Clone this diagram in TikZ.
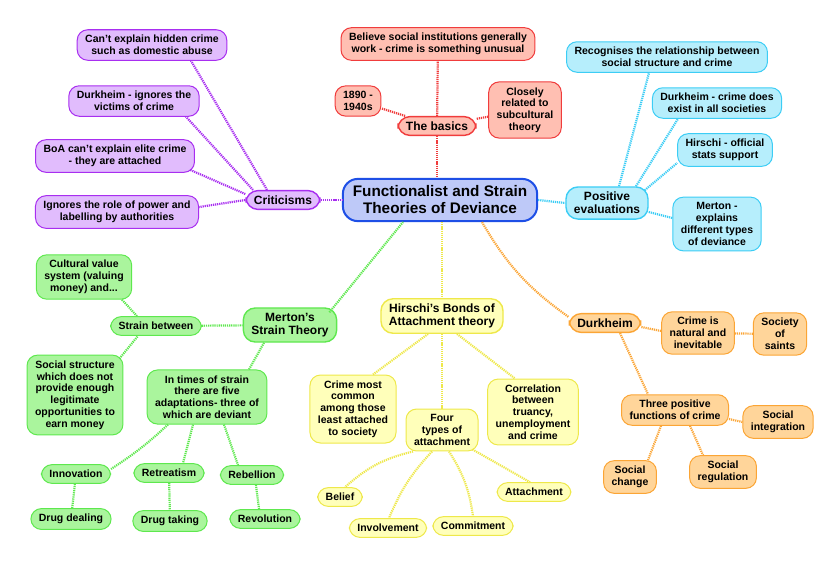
\documentclass[tikz,border=0pt]{standalone}
\usepackage{fontspec}
\setmainfont{Liberation Sans}
\definecolor{blueline}{HTML}{1E4FE6}
\definecolor{bluefill}{HTML}{BEC9F8}
\definecolor{purpline}{HTML}{A82EF0}
\definecolor{purpfill}{HTML}{E1BCFD}
\definecolor{redline}{HTML}{F03C3C}
\definecolor{redfill}{HTML}{FFBFB2}
\definecolor{cyanline}{HTML}{3CCDF5}
\definecolor{cyanfill}{HTML}{B6EEFC}
\definecolor{greenline}{HTML}{5EE84E}
\definecolor{greenfill}{HTML}{AAF59D}
\definecolor{yellowline}{HTML}{EEE84A}
\definecolor{yellowfill}{HTML}{FFFFBA}
\definecolor{orangeline}{HTML}{FBA535}
\definecolor{orangefill}{HTML}{FFD59A}
\tikzset{
    leaf/.style={rounded corners=10.5pt, line width=1pt, inner xsep=8pt, inner ysep=5.5pt,
        align=center, font=\bfseries\fontsize{10.5}{11.8}\selectfont},
    branch/.style={leaf, line width=1.4pt, rounded corners=12pt, inner ysep=5pt, font=\bfseries\fontsize{12}{13.3}\selectfont},
    hub/.style={rounded corners=15pt, line width=2pt, inner xsep=10pt, inner ysep=7pt, align=center,
        draw=blueline, fill=bluefill, font=\bfseries\fontsize{15.3}{17}\selectfont},
    link/.style={line width=2.2pt, dash pattern=on 1.2pt off 0.9pt},
    redbox/.style={draw=redline, fill=redfill},
    critbox/.style={draw=purpline, fill=purpfill},
    cyanbox/.style={draw=cyanline, fill=cyanfill},
    greenbox/.style={draw=greenline, fill=greenfill},
    yellowbox/.style={draw=yellowline, fill=yellowfill},
    orangebox/.style={draw=orangeline, fill=orangefill},
    redlink/.style={link, draw=redline},
    critlink/.style={link, draw=purpline},
    cyanlink/.style={link, draw=cyanline},
    greenlink/.style={link, draw=greenline},
    yellowlink/.style={link, draw=yellowline},
    orangelink/.style={link, draw=orangeline}
}
\begin{document}
\begin{tikzpicture}[x=1pt, y=-1pt]
            \useasboundingbox (0,0) rectangle (840,566);

            \node[hub] (hub) at (440,200) {Functionalist and Strain\\Theories of Deviance};

            \node[branch, redbox] (basics) at (437,126) {The basics};
            \node[leaf, redbox] (believe) at (438,44) {Believe social institutions generally\\work - crime is something unusual};
            \node[leaf, redbox] (dates) at (358,101) {1890 -\\1940s};
            \node[leaf, redbox] (related) at (525,110) {Closely\\related to\\subcultural\\theory};

            \node[branch, critbox] (crit) at (283,200) {Criticisms};
            \node[leaf, critbox] (hidden) at (152,45) {Can’t explain hidden crime\\such as domestic abuse};
            \node[leaf, critbox] (victims) at (134,101) {Durkheim - ignores the\\victims of crime};
            \node[leaf, critbox] (elite) at (115,156) {BoA can’t explain elite crime\\- they are attached};
            \node[leaf, critbox] (power) at (117,212) {Ignores the role of power and\\labelling by authorities};

            \node[branch, cyanbox] (pos) at (607,203) {Positive\\evaluations};
            \node[leaf, cyanbox] (relation) at (667,57) {Recognises the relationship between\\social structure and crime};
            \node[leaf, cyanbox] (exist) at (717,103) {Durkheim - crime does\\exist in all societies};
            \node[leaf, cyanbox] (stats) at (725,150) {Hirschi - official\\stats support};
            \node[leaf, cyanbox] (types) at (717,224) {Merton -\\explains\\different types\\of deviance};

            \node[branch, greenbox] (merton) at (290,325) {Merton’s\\Strain Theory};
            \node[leaf, greenbox] (strain) at (156,326) {Strain between};
            \node[leaf, greenbox] (culture) at (84,277) {Cultural value\\system (valuing\\money) and...};
            \node[leaf, greenbox] (structure) at (75,395) {Social structure\\which does not\\provide enough\\legitimate\\opportunities to\\earn money};
            \node[leaf, greenbox] (adapt) at (207,397) {In times of strain\\there are five\\adaptations- three of\\which are deviant};
            \node[leaf, greenbox] (innov) at (76,474) {Innovation};
            \node[leaf, greenbox] (retreat) at (169,473) {Retreatism};
            \node[leaf, greenbox] (rebel) at (252,475) {Rebellion};
            \node[leaf, greenbox] (dealing) at (71,519) {Drug dealing};
            \node[leaf, greenbox] (taking) at (170,521) {Drug taking};
            \node[leaf, greenbox] (revolt) at (265,519) {Revolution};

            \node[branch, yellowbox] (bonds) at (442,316) {Hirschi’s Bonds of\\Attachment theory};
            \node[leaf, yellowbox] (least) at (353,409) {Crime most\\common\\among those\\least attached\\to society};
            \node[leaf, yellowbox] (four) at (442,430) {Four\\types of\\attachment};
            \node[leaf, yellowbox] (truancy) at (533,412) {Correlation\\between\\truancy,\\unemployment\\and crime};
            \node[leaf, yellowbox] (belief) at (340,497) {Belief};
            \node[leaf, yellowbox] (involve) at (388,528) {Involvement};
            \node[leaf, yellowbox] (commit) at (473,526) {Commitment};
            \node[leaf, yellowbox] (attach) at (534,492) {Attachment};

            \node[branch, orangebox] (durk) at (605,323) {Durkheim};
            \node[leaf, orangebox] (natural) at (698,333) {Crime is\\natural and\\inevitable};
            \node[leaf, orangebox] (saints) at (780,334) {Society\\of\\saints};
            \node[leaf, orangebox] (three) at (675,410) {Three positive\\functions of crime};
            \node[leaf, orangebox] (integr) at (778,422) {Social\\integration};
            \node[leaf, orangebox] (change) at (630,477) {Social\\change};
            \node[leaf, orangebox] (regul) at (723,472) {Social\\regulation};

            \draw[redlink] (basics.south) -- (basics.south |- hub.north);
            \draw[redlink] (basics) -- (believe);
            \draw[redlink] (basics) -- (dates);
            \draw[redlink] (basics) -- (related);

            \draw[critlink] (crit) -- (hub);
            \draw[critlink] ([xshift=-16pt]crit.north) -- ([xshift=39pt]hidden.south);
            \draw[critlink] ([xshift=-30pt]crit.north) -- ([xshift=52pt]victims.south);
            \draw[critlink] ([yshift=6pt]crit.west) -- ([xshift=-5pt,yshift=3pt]elite.south east);
            \draw[critlink] (crit.west) -- ([yshift=5pt]power.east);

            \draw[cyanlink] (hub.east) -- (pos.west);
            \draw[cyanlink] ([xshift=12pt]pos.north) -- ([xshift=-18pt]relation.south);
            \draw[cyanlink] ([xshift=29pt]pos.north) -- ([xshift=-39pt]exist.south);
            \draw[cyanlink] ([xshift=-4pt,yshift=-4pt]pos.north east) -- ([yshift=-13pt]stats.west);
            \draw[cyanlink] ([yshift=-9pt]pos.east) -- ([yshift=6pt]types.west);

            \draw[greenlink] ([xshift=-8pt,yshift=-5pt]merton.north east) -- ([xshift=-37pt]hub.south);
            \draw[greenlink] (strain) -- (merton);
            \draw[greenlink] ([xshift=38pt]culture.south) -- ([xshift=-19pt]strain.north);
            \draw[greenlink] ([xshift=-4pt,yshift=-4pt]structure.north east) -- ([xshift=-18pt]strain.south);
            \draw[greenlink] ([xshift=-26pt]merton.south) -- ([xshift=42pt]adapt.north);
            \draw[greenlink] ([xshift=-39pt]adapt.south) to[bend left=5] ([yshift=5pt]innov.east);
            \draw[greenlink] ([xshift=-14pt]adapt.south) -- ([xshift=14pt]retreat.north);
            \draw[greenlink] ([xshift=17pt]adapt.south) -- ([xshift=-14pt]rebel.north);
            \draw[greenlink] (innov) -- (dealing);
            \draw[greenlink] (retreat) -- (taking);
            \draw[greenlink] ([xshift=4pt]rebel.south) -- ([xshift=-6pt]revolt.north);

            \draw[yellowlink] (bonds.north |- hub.south) -- (bonds.north);
            \draw[yellowlink] ([xshift=-14pt]bonds.south) -- ([xshift=20pt]least.north);
            \draw[yellowlink] (bonds) -- (four);
            \draw[yellowlink] ([xshift=15pt]bonds.south) -- ([xshift=-18pt]truancy.north);
            \draw[yellowlink] ([xshift=-29pt]four.south) to[bend right=14] ([xshift=5pt]belief.north);
            \draw[yellowlink] ([xshift=-10pt]four.south) to[bend right=10] ([xshift=1pt]involve.north);
            \draw[yellowlink] ([xshift=7pt]four.south) to[bend left=12] (commit.north);
            \draw[yellowlink] ([xshift=-6pt,yshift=2pt]four.south east) -- ([xshift=-4pt]attach.north);

            \draw[orangelink] ([xshift=42pt]hub.south) to[bend right=12] ([yshift=6pt]durk.west);
            \draw[orangelink] ([yshift=-4pt]durk.east) -- ([yshift=2pt]natural.west);
            \draw[orangelink] (natural) -- (saints);
            \draw[orangelink] ([xshift=15pt]durk.south) -- ([xshift=-27pt]three.north);
            \draw[orangelink] ([yshift=-9pt]three.east) -- (integr.west);
            \draw[orangelink] ([xshift=-14pt]three.south) -- ([xshift=18pt]change.north);
            \draw[orangelink] ([xshift=15pt]three.south) -- ([xshift=-20pt]regul.north);
\end{tikzpicture}
\end{document}
